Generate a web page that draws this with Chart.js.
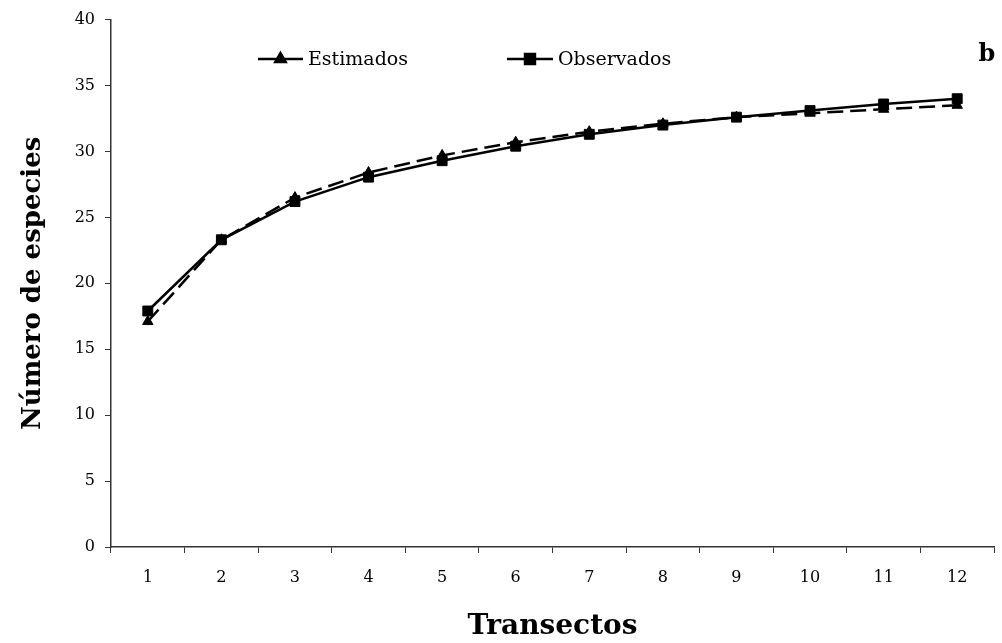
<!DOCTYPE html>
<html>
<head>
<meta charset="utf-8">
<script src="https://cdn.jsdelivr.net/npm/chart.js@4"></script>
<style>
  html, body { margin: 0; padding: 0; background: #fff; }
  #wrap { width: 1002px; height: 643px; }
</style>
</head>
<body>
<div id="wrap"><canvas id="chart" width="1002" height="643"></canvas></div>
<script>
// valores
let transectos = ['1', '2', '3', '4', '5', '6', '7', '8', '9', '10', '11', '12'];
let estimados = [17.1, 23.3, 26.5, 28.4, 29.7, 30.7, 31.5, 32.1, 32.6, 32.9, 33.2, 33.5];
let observados = [17.9, 23.3, 26.2, 28.05, 29.3, 30.4, 31.3, 32.0, 32.6, 33.1, 33.6, 34.0];
let yTicks = [0, 5, 10, 15, 20, 25, 30, 35, 40];

const wide = '"DejaVu Serif", serif';

// leyenda dentro del área y la letra "b"
let legendPlugin = {
    id: 'inLegend',
    afterDraw: function (chart) {
        let ctx = chart.ctx;
        let items = [
            { label: 'Estimados', x: 258, w: 45, style: 'triangle' },
            { label: 'Observados', x: 507, w: 46, style: 'rect' }
        ];
        let y = 59;
        ctx.save();
        items.forEach(it => {
            ctx.strokeStyle = '#000';
            ctx.lineWidth = 2.5;
            ctx.setLineDash([]);
            ctx.beginPath();
            ctx.moveTo(it.x, y);
            ctx.lineTo(it.x + it.w, y);
            ctx.stroke();
            ctx.fillStyle = '#000';
            Chart.helpers.drawPoint(ctx, { pointStyle: it.style, radius: it.style === 'rect' ? 7 : 6, borderWidth: 1 }, it.x + it.w / 2, y);
            ctx.font = '19px ' + wide;
            ctx.textAlign = 'left';
            ctx.textBaseline = 'middle';
            ctx.fillText(it.label, it.x + it.w + 5, y + 1);
        });
        ctx.font = 'bold 24px ' + wide;
        ctx.textAlign = 'center';
        ctx.textBaseline = 'alphabetic';
        ctx.fillText('b', 987, 61);
        ctx.restore();
    }
};

new Chart(document.getElementById('chart'), {
    type: 'line',
    data: {
        labels: transectos,
        datasets: [
            {
                label: 'Estimados',
                data: estimados,
                borderColor: '#000',
                backgroundColor: '#000',
                borderWidth: 2.5,
                borderDash: [16, 7],
                pointStyle: 'triangle',
                pointRadius: 6,
                pointBorderWidth: 1,
                tension: 0
            },
            {
                label: 'Observados',
                data: observados,
                borderColor: '#000',
                backgroundColor: '#000',
                borderWidth: 2.5,
                pointStyle: 'rect',
                pointRadius: 7,
                pointBorderWidth: 1,
                tension: 0
            }
        ]
    },
    options: {
        responsive: false,
        animation: false,
        devicePixelRatio: 1,
        layout: { padding: { top: 18, right: 1, left: 14, bottom: 0 } },
        plugins: {
            legend: { display: false },
            tooltip: { enabled: false }
        },
        scales: {
            x: {
                offset: true,
                grid: { offset: true, drawOnChartArea: false, color: '#000', tickLength: 6, tickColor: '#333' },
                border: { color: '#333', width: 1.5 },
                ticks: { color: '#000', font: { family: wide, size: 16 }, padding: 15, maxRotation: 0 },
                title: { display: true, text: 'Transectos', color: '#000', font: { family: wide, size: 28, weight: 'bold' }, padding: { top: 18, bottom: -1 } },
                afterFit: function (scale) {
                    scale.height = 96;
                    scale.paddingLeft = 0;
                    scale.paddingRight = 0;
                }
            },
            y: {
                min: 0,
                max: 40,
                afterBuildTicks: function (scale) { scale.ticks = yTicks.map(v => ({ value: v })); },
                grid: { drawOnChartArea: false, color: '#000', tickLength: 6, tickColor: '#333' },
                border: { color: '#333', width: 1.5 },
                ticks: { color: '#000', font: { family: wide, size: 16 }, padding: 10 },
                title: { display: true, text: 'Número de especies', color: '#000', font: { family: wide, size: 26, weight: 'bold' }, padding: { bottom: 24 } },
                afterFit: function (scale) { scale.width = 97; }
            }
        }
    },
    plugins: [legendPlugin]
});
</script>
</body>
</html>
